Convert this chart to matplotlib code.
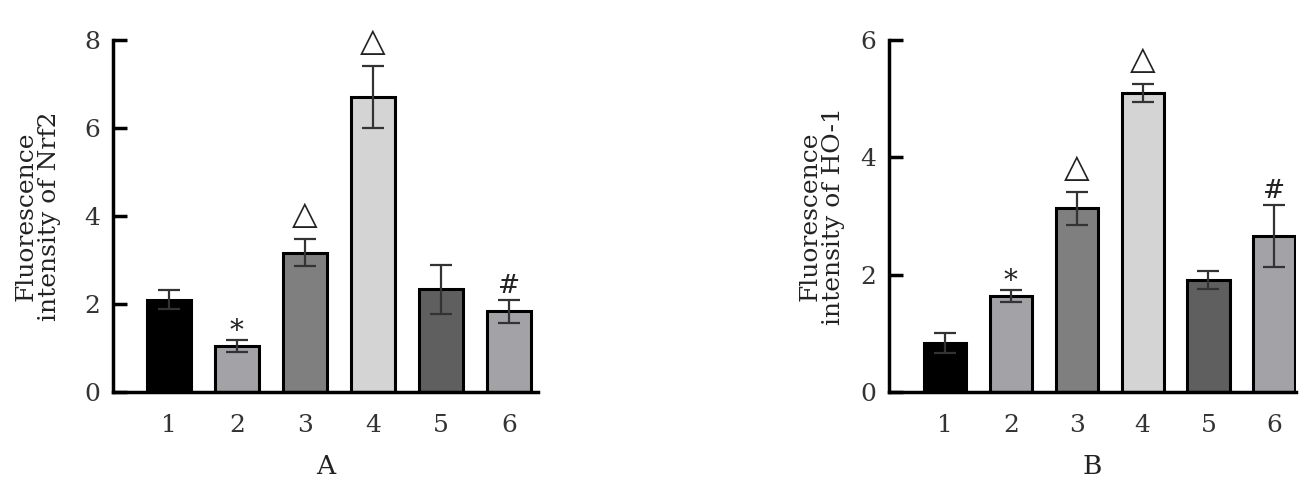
import numpy as np
import matplotlib
matplotlib.use("Agg")
import matplotlib.pyplot as plt

plt.rcParams['font.family'] = ['DejaVu Serif']

# Data
groups = ['1', '2', '3', '4', '5', '6']
nrf2 = [2.1, 1.05, 3.17, 6.71, 2.33, 1.83]
nrf2_err = [0.22, 0.13, 0.30, 0.70, 0.55, 0.27]
ho1 = [0.83, 1.64, 3.13, 5.10, 1.91, 2.66]
ho1_err = [0.17, 0.10, 0.28, 0.15, 0.16, 0.53]
nrf2_marks = ['', '*', '△', '△', '', '#']
ho1_marks = ['', '*', '△', '△', '', '#']

colors = ['#000000', '#a2a2a7', '#7f7f7f', '#d4d4d4', '#5f5f5f', '#a2a2a7']

fig = plt.figure(figsize=(13.13, 4.99), dpi=100)
axA = fig.add_axes([0.0861, 0.2144, 0.3237, 0.7054])
axB = fig.add_axes([0.6771, 0.2144, 0.3100, 0.7054])


def draw(ax, vals, errs, marks, ymax, xlim, ylabel, letter, ypad):
    x = np.arange(1, len(vals) + 1)
    ax.bar(x, vals, width=0.64, color=colors, edgecolor='black', linewidth=2.2, zorder=2)
    ax.errorbar(x, vals, yerr=errs, fmt='none', ecolor='#333333', elinewidth=1.6,
                capsize=8, capthick=1.6, zorder=3)
    for xi, v, e, m in zip(x, vals, errs, marks):
        if not m:
            continue
        if m == '△':
            # triangle glyph hangs below the baseline, so push it up more
            ax.annotate(m, (xi, v + e), xytext=(0, 11), textcoords='offset points',
                        ha='center', va='baseline', fontsize=24,
                        family=['DejaVu Sans'], color='#222222')
        elif m == '*':
            ax.annotate(m, (xi, v + e), xytext=(0, 1), textcoords='offset points',
                        ha='center', va='baseline', fontsize=20, color='#222222')
        else:
            ax.annotate(m, (xi, v + e), xytext=(0, 5), textcoords='offset points',
                        ha='center', va='baseline', fontsize=19, color='#222222')
    ax.set_xlim(*xlim)
    ax.set_ylim(0, ymax)
    ax.set_yticks(np.arange(0, ymax + 1, 2))
    ax.set_xticks(x)
    ax.set_xticklabels(groups)
    for s in ['top', 'right']:
        ax.spines[s].set_visible(False)
    for s in ['left', 'bottom']:
        ax.spines[s].set_linewidth(2.5)
    ax.tick_params(axis='y', direction='in', length=10, width=2.5, labelsize=18,
                   pad=9, labelcolor='#333333')
    ax.tick_params(axis='x', length=0, labelsize=18, pad=16, labelcolor='#333333')
    ax.set_ylabel(ylabel, fontsize=18, labelpad=ypad, linespacing=1.05, color='#222222')
    ax.set_xlabel(letter, fontsize=19, labelpad=12, color='#222222')


draw(axA, nrf2, nrf2_err, nrf2_marks, 8, (0.18, 6.43),
     'Fluorescence\nintensity of Nrf2', 'A', 17)
draw(axB, ho1, ho1_err, ho1_marks, 6, (0.15, 6.33),
     'Fluorescence\nintensity of HO-1', 'B', 11)

fig.savefig('out.png', dpi=100)
